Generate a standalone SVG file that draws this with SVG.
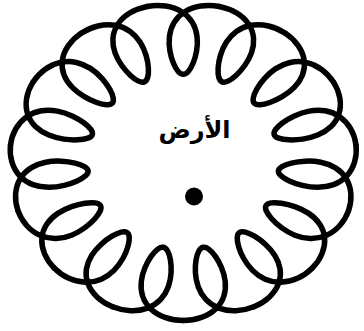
<svg xmlns="http://www.w3.org/2000/svg" xmlns:xlink="http://www.w3.org/1999/xlink" width="364" height="331" viewBox="0 0 364 331">
  <style>
    .loop { fill: none; stroke: #000; stroke-width: 5.5; stroke-linecap: round; stroke-linejoin: round; }
    .label { font-family: "DejaVu Sans", sans-serif; font-weight: bold; font-size: 24px; fill: #000; }
  </style>
  <defs>
    <path id="period" class="loop" vector-effect="non-scaling-stroke" d="M154.547,-32.850 C155.745,-27.212 155.904,-21.363 154.991,-15.926 C154.078,-10.489 152.096,-5.478 149.231,-1.330 C146.366,2.818 142.625,6.098 138.365,8.398 C134.105,10.698 129.336,12.024 124.495,12.555 C119.655,13.086 114.750,12.835 110.206,12.122 C105.662,11.409 101.482,10.245 97.999,8.915 C94.516,7.585 91.732,6.092 89.853,4.580 C87.974,3.068 87,1.532 87,0 C87,-1.532 87.974,-3.068 89.853,-4.580 C91.732,-6.092 94.516,-7.585 97.999,-8.915 C101.482,-10.245 105.662,-11.409 110.206,-12.122 C114.750,-12.835 119.655,-13.086 124.495,-12.555 C129.336,-12.024 134.105,-10.698 138.365,-8.398 C142.625,-6.098 146.366,-2.818 149.231,1.330 C152.096,5.478 154.078,10.489 154.991,15.926 C155.904,21.363 155.745,27.212 154.547,32.850"/>
  </defs>
  <g id="orbit" transform="translate(183.25,161.74) scale(1.0994,1.0048)">
    <use xlink:href="#period" transform="rotate(-90)"/>
    <use xlink:href="#period" transform="rotate(-66)"/>
    <use xlink:href="#period" transform="rotate(-42)"/>
    <use xlink:href="#period" transform="rotate(-18)"/>
    <use xlink:href="#period" transform="rotate(6)"/>
    <use xlink:href="#period" transform="rotate(30)"/>
    <use xlink:href="#period" transform="rotate(54)"/>
    <use xlink:href="#period" transform="rotate(78)"/>
    <use xlink:href="#period" transform="rotate(102)"/>
    <use xlink:href="#period" transform="rotate(126)"/>
    <use xlink:href="#period" transform="rotate(150)"/>
    <use xlink:href="#period" transform="rotate(174)"/>
    <use xlink:href="#period" transform="rotate(198)"/>
    <use xlink:href="#period" transform="rotate(222)"/>
    <use xlink:href="#period" transform="rotate(246)"/>
  </g>
  <g id="earth-label">
    <text class="label" x="194.5" y="137.5" text-anchor="middle" direction="rtl">الأرض</text>
  </g>
  <g id="earth">
    <circle cx="194" cy="196.5" r="9" fill="#000"/>
  </g>
</svg>
